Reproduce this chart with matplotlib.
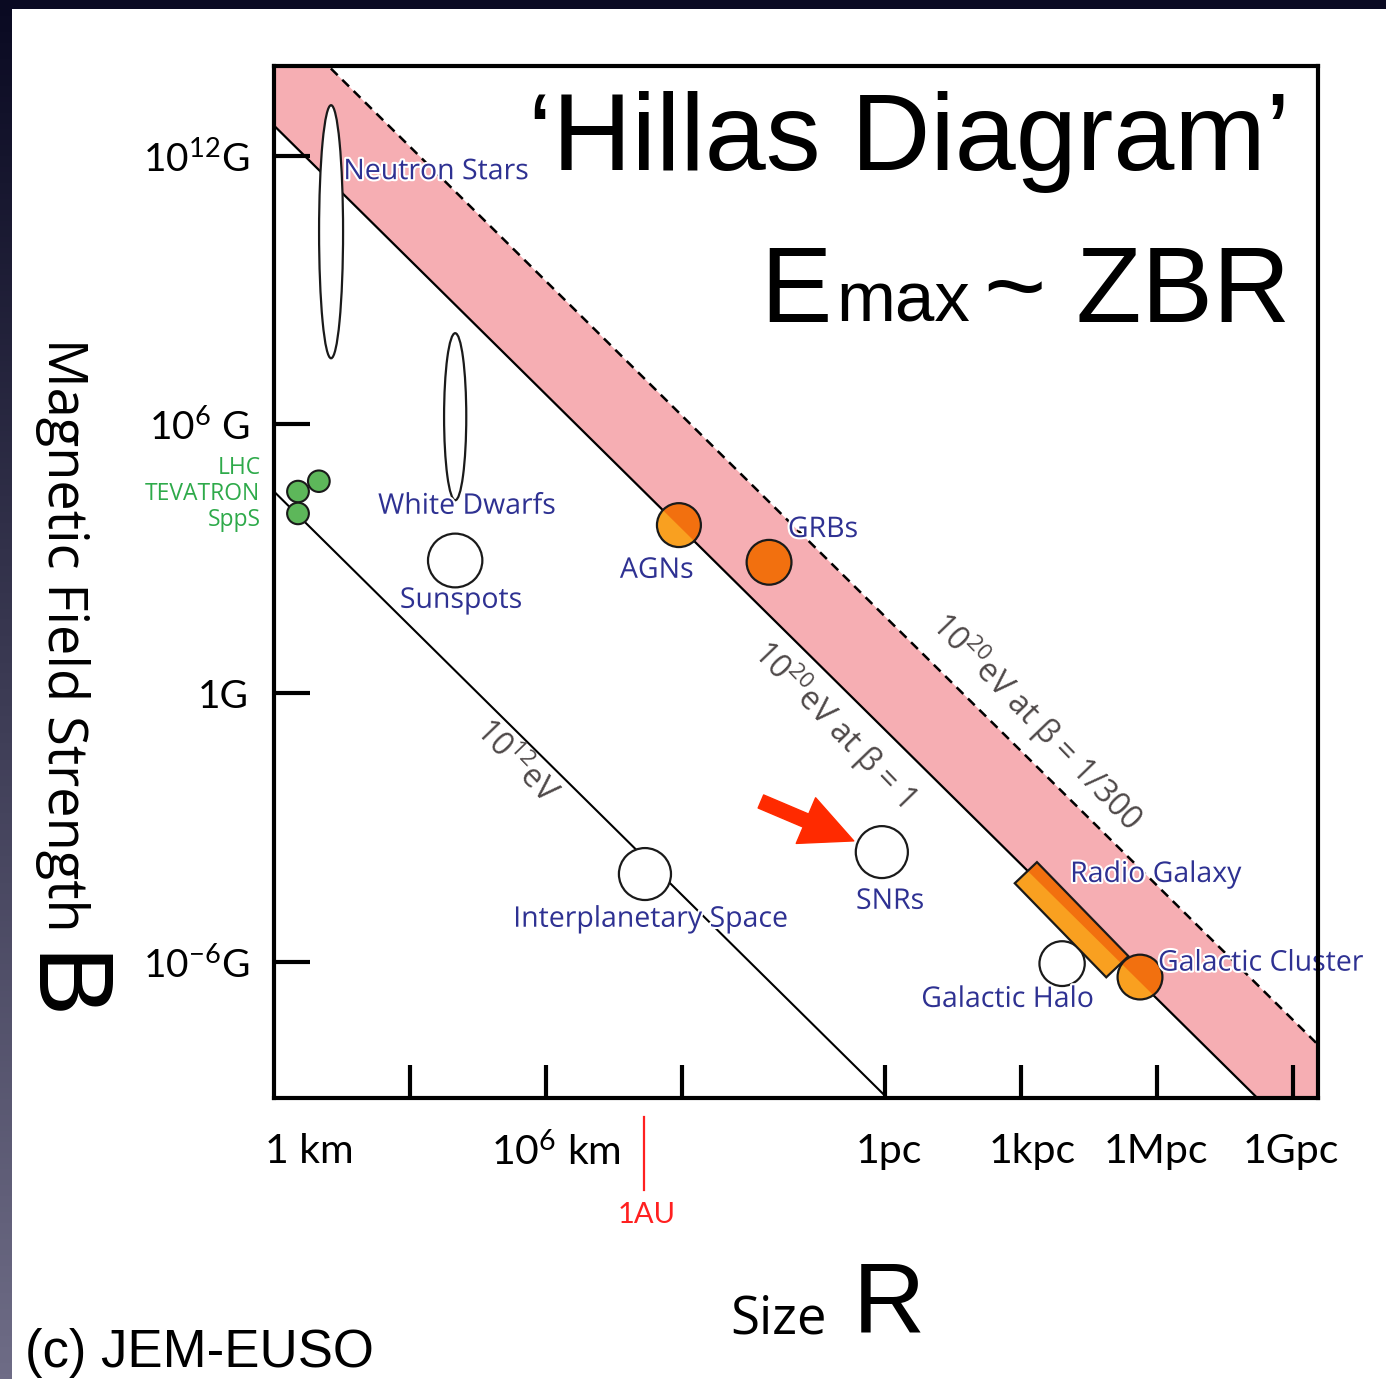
import numpy as np
import matplotlib
matplotlib.use("Agg")
import matplotlib.pyplot as plt
from matplotlib.patches import Ellipse, Polygon
import matplotlib.patheffects as pe

# ---------------- data (log10 of size in km, log10 of B in Gauss) ----------------
obj_names = ["Neutron Stars", "White Dwarfs", "Sunspots", "AGNs", "GRBs",
             "Interplanetary Space", "SNRs", "Galactic Halo", "Galactic Cluster"]
obj_logR = [1.26, 4.00, 4.00, 8.94, 10.93, 8.19, 13.42, 17.40, 19.12]
obj_logB = [10.30, 6.17, 2.96, 3.75, 2.92, -4.04, -3.55, -6.04, -6.34]
obj_spanR = [0.53, 0.49, 1.20, 0.97, 0.99, 1.15, 1.15, 1.00, 0.99]
obj_spanB = [5.65, 3.73, 1.20, 0.98, 1.00, 1.16, 1.16, 1.00, 1.00]
obj_kind = ["white", "white", "white", "orange", "orange", "white", "white", "white", "orange"]

acc_names = ["LHC", "TEVATRON", "SppS"]
acc_logR = [0.99, 0.53, 0.53]
acc_logB = [4.73, 4.50, 4.01]

rg_name = "Radio Galaxy"
rg_logR = [16.60, 18.62]
rg_logB = [-4.01, -6.11]

# lines: log B + log R = const
line_labels = [r"$\mathregular{10^{12}}$eV", r"$\mathregular{10^{20}}$eV at β = 1",
               r"$\mathregular{10^{20}}$eV at β = 1/300"]
line_const = [4.50, 12.67, 15.20]

xtick_vals = [3, 6, 9, 13.49, 16.49, 19.49, 22.49]
xlabel_vals = [0, 6, 13.49, 16.49, 19.49, 22.49]
xlabel_text = ["1 km", r"$\mathregular{10^6}$ km", "1pc", "1kpc", "1Mpc", "1Gpc"]
ytick_vals = [12, 6, 0, -6]
ytick_text = [r"$\mathregular{10^{12}}$G", r"$\mathregular{10^{6}}$ G", "1G", r"$\mathregular{10^{-6}}$G"]
AU_logR = 8.17

# ---------------- style ----------------
BLUE = "#2E3192"
GREEN_T = "#2EAA4A"
PINK = "#F6AEB3"
ORANGE_L = "#F9A020"
ORANGE_D = "#F2700F"
GRAY = "#4E4848"
plt.rcParams["font.family"] = ["Open Sans", "DejaVu Sans"]

W, H = 1386, 1379
fig = plt.figure(figsize=(W / 100, H / 100), dpi=100)
fig.patch.set_facecolor("white")

ax = fig.add_axes([274 / W, 1 - 1098 / H, (1318 - 274) / W, (1098 - 66) / H])
XL = (0, 23.05)
YL = (-9.04, 14.0)
ax.set_xlim(*XL)
ax.set_ylim(*YL)
for s in ax.spines.values():
    s.set_linewidth(3.0)
    s.set_zorder(10)

# pink band between beta=1 and beta=1/300 lines
xa, xb = -5, 30
band = Polygon([(xa, line_const[1] - xa), (xb, line_const[1] - xb),
                (xb, line_const[2] - xb), (xa, line_const[2] - xa)],
               closed=True, facecolor=PINK, edgecolor="none", zorder=1)
ax.add_patch(band)

xx = np.array(XL)
ax.plot(xx, line_const[0] - xx, color="black", lw=1.5, zorder=2)
ax.plot(xx, line_const[1] - xx, color="black", lw=1.6, zorder=2)
ax.plot(xx, line_const[2] - xx, color="black", lw=1.8, ls=(0, (3.8, 2.6)), zorder=2)

# line labels
line_lab_pos = [(5.32, -1.54), (12.34, -0.69), (16.84, -0.64)]
for lab, (lx, ly) in zip(line_labels, line_lab_pos):
    ax.text(lx, ly, lab, rotation=-46, rotation_mode="anchor", ha="center", va="center",
            fontsize=23, color=GRAY, zorder=6)

# objects
for name, r, b, dr, db, kind in zip(obj_names, obj_logR, obj_logB, obj_spanR, obj_spanB, obj_kind):
    if kind == "white":
        ax.add_patch(Ellipse((r, b), dr, db, facecolor="white", edgecolor="#1a1a1a", lw=1.6, zorder=3))
    else:
        ax.add_patch(Ellipse((r, b), dr, db, facecolor=ORANGE_L, edgecolor="none", zorder=3))
        dark = Ellipse((r, b), dr, db, facecolor=ORANGE_D, edgecolor="none", zorder=3.1)
        ax.add_patch(dark)
        dark.set_clip_path(band)
        ax.add_patch(Ellipse((r, b), dr, db, facecolor="none", edgecolor="#1a1a1a", lw=1.6, zorder=3.2))

# radio galaxy rectangle along its size/field range
p0 = np.array([rg_logR[0], rg_logB[0]])
p1 = np.array([rg_logR[1], rg_logB[1]])
d = p1 - p0
perp = np.array([-d[1], d[0]])
perp = perp / np.hypot(*perp) * 0.34
rect_pts = [p0 + perp, p1 + perp, p1 - perp, p0 - perp]
ax.add_patch(Polygon(rect_pts, closed=True, facecolor=ORANGE_L, edgecolor="none", zorder=3))
rg_dark = Polygon(rect_pts, closed=True, facecolor=ORANGE_D, edgecolor="none", zorder=3.1)
ax.add_patch(rg_dark)
rg_dark.set_clip_path(band)
ax.add_patch(Polygon(rect_pts, closed=True, facecolor="none", edgecolor="#1a1a1a", lw=1.6, zorder=3.2))

# accelerators
for r, b in zip(acc_logR, acc_logB):
    ax.add_patch(Ellipse((r, b), 0.48, 0.48, facecolor="#5DB75A", edgecolor="#1a1a1a", lw=1.5, zorder=4))

# object labels
halo = [pe.withStroke(linewidth=3, foreground="white")]
obj_lab_pos = [(3.58, 11.63), (4.26, 4.16), (4.13, 2.06), (8.45, 2.73), (12.12, 3.64),
               (8.32, -5.06), (13.60, -4.66), (16.20, -6.85), (21.79, -6.04)]
for name, (lx, ly) in zip(obj_names, obj_lab_pos):
    ax.text(lx, ly, name, ha="center", va="center", fontsize=20.5, color=BLUE,
            path_effects=halo, zorder=7)
ax.text(19.47, -4.06, rg_name, ha="center", va="center", fontsize=20.5, color=BLUE,
        path_effects=halo, zorder=7)

# accelerator labels (left of axis)
acc_lab_y = [5.02, 4.45, 3.87]
for name, ly in zip(acc_names, acc_lab_y):
    ax.text(-0.3, ly, name, ha="right", va="center", fontsize=16.5, color=GREEN_T,
            clip_on=False, zorder=7)

# red arrow pointing to SNRs
ax.annotate("", xy=(12.80, -3.30), xytext=(10.75, -2.42),
            arrowprops=dict(arrowstyle="simple,head_width=1.05,head_length=1.1,tail_width=0.3",
                            color="#FF2A00", mutation_scale=34, shrinkA=0, shrinkB=0), zorder=8)

# ticks
ax.set_xticks(xtick_vals)
ax.set_xticklabels([])
ax.set_yticks(ytick_vals)
ax.set_yticklabels(ytick_text)
ax.tick_params(axis="x", direction="in", length=24, width=3, bottom=True, top=False)
ax.tick_params(axis="y", direction="in", length=26, width=3, left=True, right=False,
               labelsize=28, pad=18)
for t in ax.get_yticklabels():
    t.set_family(["Lato", "DejaVu Sans"])

xlabel_pos = [0.79, 6.23, 13.58, 16.73, 19.47, 22.45]
for xv, txt in zip(xlabel_pos, xlabel_text):
    ax.text(xv, -0.052, txt, transform=ax.get_xaxis_transform(), ha="center", va="center",
            fontsize=29.5, family=["Lato", "DejaVu Sans"], clip_on=False)

# 1 AU marker
ax.plot([AU_logR, AU_logR], [-9.46, -11.09], color="#FF2020", lw=1.6, clip_on=False)
ax.text(AU_logR + 0.05, -11.65, "1AU", ha="center", va="center", fontsize=21,
        color="#FF2020", family=["Lato", "DejaVu Sans"], clip_on=False)

# figure texts
fig.text(1290 / W, 1 - 170 / H, "\u2018Hillas Diagram\u2019", ha="right", va="baseline",
         fontsize=79, family="Liberation Sans")
fig.text(760 / W, 1 - 322 / H, "E", ha="left", va="baseline", fontsize=77, family="Liberation Sans")
fig.text(836 / W, 1 - 322 / H, "max", ha="left", va="baseline", fontsize=51, family="Liberation Sans")
fig.text(1290 / W, 1 - 322 / H, "~ ZBR", ha="right", va="baseline", fontsize=77, family="Liberation Sans")

fig.text(62 / W, 1 - 635 / H, "Magnetic Field Strength", rotation=270, ha="center", va="center",
         fontsize=39)
fig.text(58 / W, 1 - 988 / H, "B", rotation=270, ha="center", va="center", fontsize=76,
         family="Liberation Sans")
fig.text(730 / W, 1 - 1333 / H, "Size", ha="left", va="baseline", fontsize=38)
fig.text(853 / W, 1 - 1332 / H, "R", ha="left", va="baseline", fontsize=72, family="Liberation Sans")
fig.text(25 / W, 1 - 1367 / H, "(c) JEM-EUSO", ha="left", va="baseline", fontsize=38,
         family="Liberation Sans")

# dark slide frame (top and left)
top = fig.add_axes([0, 1 - 9 / H, 1, 9 / H])
top.set_facecolor("#0A0A22")
top.set_xticks([]); top.set_yticks([])
for s in top.spines.values():
    s.set_visible(False)
left = fig.add_axes([0, 0, 12 / W, 1])
c0 = np.array([10, 10, 34]) / 255.0
c1 = np.array([110, 108, 134]) / 255.0
tgrad = np.linspace(0, 1, 256)[:, None, None]
grad = c0 * (1 - tgrad) + c1 * tgrad
left.imshow(grad, aspect="auto", extent=[0, 1, 0, 1])
left.axis("off")

fig.savefig("out.png", dpi=100)
